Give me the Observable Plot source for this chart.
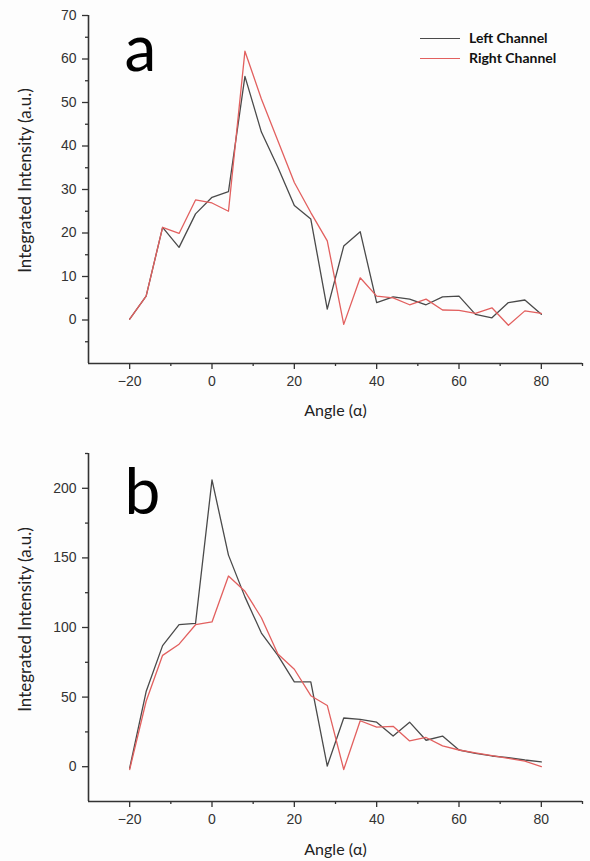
<!DOCTYPE html>
<html>
<head>
<meta charset="utf-8">
<script src="https://cdn.jsdelivr.net/npm/d3@7"></script>
<script src="https://cdn.jsdelivr.net/npm/@observablehq/plot@0.6"></script>
<style>
  html, body { margin: 0; padding: 0; background: #fdfdfd; }
  #wrap { position: relative; width: 590px; height: 861px; }
  #wrap svg { display: block; background: transparent; }
  .legend { position: absolute; left: 420px; top: 28px; font-family: Lato, "Open Sans", sans-serif; font-weight: bold; font-size: 14px; color: #111; line-height: 20px; }
  .legend .row { display: flex; align-items: center; height: 20px; }
  .legend .sw { display: inline-block; width: 40px; height: 0; border-top: 1.6px solid; margin-right: 9px; }
</style>
</head>
<body>
<div id="wrap"></div>
<script>
// ---- data ----
const angles = [-20, -16, -12, -8, -4, 0, 4, 8, 12, 16, 20, 24, 28, 32, 36, 40, 44, 48, 52, 56, 60, 64, 68, 72, 76, 80];
const aLeft  = [0.2, 5.5, 21.3, 16.7, 24.4, 28.2, 29.5, 56, 43.2, 35.1, 26.3, 23.2, 2.5, 17, 20.3, 4, 5.3, 4.8, 3.5, 5.3, 5.5, 1.3, 0.5, 4, 4.6, 1.3];
const aRight = [0.2, 5.5, 21.3, 19.9, 27.6, 26.9, 25, 61.8, 50.8, 41.2, 31.6, 24.7, 18.2, -1, 9.7, 5.5, 5.1, 3.5, 4.8, 2.3, 2.2, 1.5, 2.8, -1.2, 2.1, 1.5];
const bLeft  = [-1, 54, 87, 102, 103, 206, 152, 122, 96, 80, 61, 61, 0.5, 35, 34, 32, 22, 32, 19, 22, 12, 9.6, 7.7, 6.5, 4.8, 3.4];
const bRight = [-2, 47, 80, 88, 102, 104, 137, 126, 107, 81, 70, 51, 44, -2, 33, 28.5, 29, 18.5, 21, 15, 12, 10, 8, 6, 4, 0];

const seriesNames = ["Left Channel", "Right Channel"];
const seriesColors = ["#4a4a4a", "#e2605f"];

const xDomain = [-30, 90];
const xMajor = [-20, 0, 20, 40, 60, 80];
const xMinor = [-10, 10, 30, 50, 70, 90];

const aDomain = [-10, 70];
const aMajor = [0, 10, 20, 30, 40, 50, 60, 70];
const aMinor = [-5, 5, 15, 25, 35, 45, 55, 65];

const bDomain = [-25, 225];
const bMajor = [0, 50, 100, 150, 200];
const bMinor = [25, 75, 125, 175, 225];

const xTitle = "Angle (α)";
const yTitle = "Integrated Intensity (a.u.)";

function rows(left, right) {
  const out = [];
  angles.forEach((a, i) => out.push({angle: a, value: left[i], series: seriesNames[0]}));
  angles.forEach((a, i) => out.push({angle: a, value: right[i], series: seriesNames[1]}));
  return out;
}

const tickFont = {fontFamily: '"Liberation Sans", Arial, sans-serif', fontSize: 14};
const axisColor = "#333";
const titleFont = 'Lato, "Open Sans", sans-serif';

function panel({data, yDomain, yMajor, yMinor, letter, height, marginTop, marginBottom, letterDy, yTitleDy, xTitleDy}) {
  return Plot.plot({
    width: 590,
    height,
    marginTop,
    marginBottom,
    marginLeft: 88,
    marginRight: 8,
    style: {background: "transparent", overflow: "visible"},
    x: {domain: xDomain},
    y: {domain: yDomain},
    color: {domain: seriesNames, range: seriesColors},
    marks: [
      Plot.line(data, {x: "angle", y: "value", z: "series", stroke: "series", strokeWidth: 1.3}),
      Plot.axisY({ticks: yMajor, tickSize: 6, tickPadding: 6, label: null, stroke: axisColor, color: "#333", strokeWidth: 1.3, ...tickFont}),
      Plot.axisY({ticks: yMinor, tickSize: 3, tickFormat: () => "", label: null, stroke: axisColor, strokeWidth: 1.3}),
      Plot.axisX({ticks: xMajor, tickSize: 6, tickPadding: 7, label: null, stroke: axisColor, color: "#333", strokeWidth: 1.3, ...tickFont}),
      Plot.axisX({ticks: xMinor, tickSize: 3, tickFormat: () => "", label: null, stroke: axisColor, strokeWidth: 1.3}),
      Plot.ruleX([xDomain[0]], {stroke: axisColor, strokeWidth: 1.6}),
      Plot.ruleY([yDomain[0]], {stroke: axisColor, strokeWidth: 1.6}),
      Plot.text([letter], {frameAnchor: "top-left", textAnchor: "start", lineAnchor: "top", dx: 36, dy: letterDy, fontSize: 64, fontFamily: titleFont, fill: "#000"}),
      Plot.text([xTitle], {frameAnchor: "bottom", textAnchor: "middle", lineAnchor: "middle", dy: xTitleDy, fontSize: 16, fontFamily: titleFont, fill: "#222"}),
      Plot.text([yTitle], {frameAnchor: "left", textAnchor: "middle", lineAnchor: "middle", rotate: -90, dx: -63, dy: yTitleDy, fontSize: 17, fontFamily: titleFont, fill: "#222"})
    ]
  });
}

const wrap = document.getElementById("wrap");
wrap.appendChild(panel({data: rows(aLeft, aRight), yDomain: aDomain, yMajor: aMajor, yMinor: aMinor, letter: "a",
  height: 430, marginTop: 15, marginBottom: 67, letterDy: 10, yTitleDy: -9, xTitleDy: 47}));
wrap.appendChild(panel({data: rows(bLeft, bRight), yDomain: bDomain, yMajor: bMajor, yMinor: bMinor, letter: "b",
  height: 431, marginTop: 23, marginBottom: 60, letterDy: 15, yTitleDy: -8, xTitleDy: 48}));

// legend
const lg = document.createElement("div");
lg.className = "legend";
seriesNames.forEach((n, i) => {
  const r = document.createElement("div");
  r.className = "row";
  const sw = document.createElement("span");
  sw.className = "sw";
  sw.style.borderTopColor = seriesColors[i];
  r.appendChild(sw);
  r.appendChild(document.createTextNode(n));
  lg.appendChild(r);
});
wrap.appendChild(lg);
</script>
</body>
</html>
